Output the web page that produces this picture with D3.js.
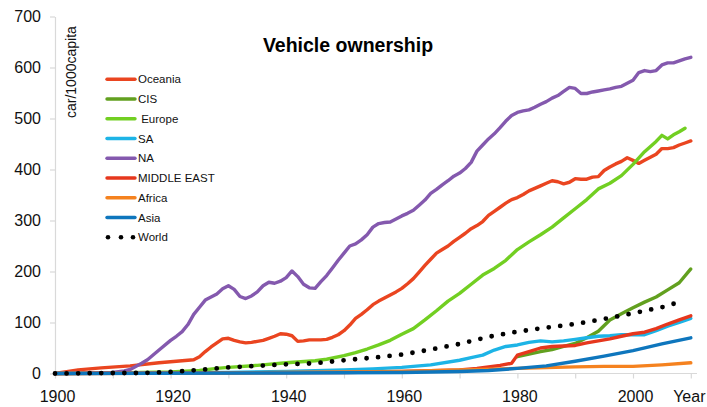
<!DOCTYPE html>
<html>
<head>
<meta charset="utf-8">
<script src="https://cdn.jsdelivr.net/npm/d3@7"></script>
<style>
  body { margin: 0; background: #fff; }
  svg { display: block; font-family: "Liberation Sans", Arial, sans-serif; }
</style>
</head>
<body>
<svg id="chart"></svg>
<script>
// values, [year, car per 1000 capita]
const oceania = [[1900,0],[1904,7],[1908,11],[1913,15],[1918,21],[1921,24],[1923,26],[1924,27],[1925,33],[1926,43],[1927,52],[1928,60],[1929,68],[1930,69],[1931,65],[1932,62],[1933,60],[1934,61],[1935,63],[1936,65],[1937,69],[1938,73],[1939,78],[1940,77],[1941,74],[1942,63],[1943,64],[1944,66],[1945,66],[1946,66],[1947,67],[1948,71],[1949,76],[1950,84],[1951,95],[1952,108],[1953,116],[1954,125],[1955,135],[1956,142],[1957,148],[1958,154],[1959,160],[1960,167],[1961,176],[1962,186],[1963,199],[1964,212],[1965,224],[1966,236],[1967,243],[1968,250],[1969,259],[1970,267],[1971,275],[1972,284],[1973,290],[1974,298],[1975,310],[1976,318],[1977,326],[1978,334],[1979,341],[1980,345],[1981,351],[1982,358],[1983,363],[1984,368],[1985,373],[1986,378],[1987,376],[1988,372],[1989,375],[1990,382],[1991,381],[1992,381],[1993,385],[1994,386],[1995,398],[1996,405],[1997,411],[1998,416],[1999,423],[2000,418],[2001,412],[2002,418],[2003,424],[2004,430],[2005,441],[2006,441],[2007,443],[2008,448],[2009,452],[2010,456]];
const cis = [[1980,33],[1982,38],[1984,43],[1986,47],[1988,53],[1990,59],[1992,70],[1994,83],[1996,105],[1998,117],[2000,129],[2002,140],[2004,150],[2006,164],[2008,178],[2010,205]];
const europe = [[1900,0],[1910,1],[1920,3],[1925,6],[1928,10],[1930,12],[1935,16],[1940,21],[1945,25],[1947,28],[1950,35],[1952,41],[1954,48],[1956,56],[1958,65],[1960,77],[1962,88],[1964,105],[1966,123],[1968,142],[1970,157],[1972,175],[1974,193],[1976,206],[1978,222],[1980,243],[1982,258],[1984,272],[1986,287],[1988,305],[1990,323],[1992,341],[1994,362],[1996,373],[1998,388],[2000,410],[2002,435],[2004,455],[2005,467],[2006,460],[2007,468],[2008,474],[2009,481]];
const sa = [[1900,0],[1920,1],[1930,2],[1940,4],[1950,7],[1955,9],[1960,12],[1965,17],[1970,26],[1972,31],[1974,36],[1976,46],[1978,53],[1980,56],[1982,61],[1984,64],[1986,62],[1988,64],[1990,67],[1992,70],[1994,73],[1996,74],[1998,76],[2000,76],[2002,76],[2004,84],[2006,93],[2008,100],[2010,108]];
const na = [[1900,0],[1905,0.5],[1910,2],[1912,5],[1913,8],[1915,20],[1916,27],[1918,46],[1920,65],[1921,73],[1922,82],[1923,96],[1924,116],[1925,130],[1926,144],[1927,150],[1928,156],[1929,166],[1930,172],[1931,165],[1932,151],[1933,147],[1934,152],[1935,160],[1936,172],[1937,179],[1938,177],[1939,181],[1940,188],[1941,201],[1942,190],[1943,175],[1944,168],[1945,167],[1946,180],[1947,192],[1948,207],[1949,222],[1950,236],[1951,250],[1952,254],[1953,262],[1954,272],[1955,287],[1956,294],[1957,296],[1958,297],[1959,303],[1960,309],[1961,314],[1962,320],[1963,330],[1964,340],[1965,353],[1966,361],[1967,370],[1968,378],[1969,387],[1970,393],[1971,402],[1972,414],[1973,436],[1974,448],[1975,460],[1976,470],[1977,482],[1978,495],[1979,506],[1980,512],[1981,515],[1982,517],[1983,522],[1984,528],[1985,533],[1986,540],[1987,545],[1988,553],[1989,561],[1990,559],[1991,549],[1992,549],[1993,552],[1994,554],[1995,556],[1996,558],[1997,561],[1998,563],[1999,569],[2000,575],[2001,590],[2002,594],[2003,592],[2004,594],[2005,605],[2006,609],[2007,609],[2008,613],[2009,617],[2010,620]];
const middleEast = [[1900,0],[1950,2],[1960,4],[1970,7],[1973,10],[1975,13],[1977,16],[1979,20],[1980,36],[1982,43],[1984,50],[1986,53],[1988,54],[1990,55],[1992,60],[1994,64],[1996,68],[1998,73],[2000,78],[2002,81],[2004,88],[2006,97],[2008,105],[2010,113]];
const africa = [[1900,0],[1930,1],[1950,3],[1960,4],[1970,7],[1980,10],[1990,13],[1995,14],[2000,14],[2005,17],[2010,21]];
const asia = [[1900,0],[1940,1],[1960,2],[1970,4],[1975,6],[1980,10],[1985,15],[1990,24],[1995,34],[2000,45],[2005,58],[2010,70]];
const world = [[1900,0],[1910,1],[1915,1],[1920,3],[1925,7],[1930,12],[1935,15],[1940,18],[1945,20],[1950,26],[1955,31],[1960,37],[1965,47],[1970,58],[1975,72],[1980,82],[1985,90],[1990,97],[1995,107],[2000,118],[2005,130],[2008,140]];

const seriesNames = ["Oceania", "CIS", " Europe", "SA", "NA", "MIDDLE EAST", "Africa", "Asia", "World"];
const seriesData = [oceania, cis, europe, sa, na, middleEast, africa, asia, world];
const yTicks = [0, 100, 200, 300, 400, 500, 600, 700];
const xTicks = [1900, 1910, 1920, 1930, 1940, 1950, 1960, 1970, 1980, 1990, 2000, 2010];
const xLabels = {1900: "1900", 1920: "1920", 1940: "1940", 1960: "1960", 1980: "1980", 2000: "2000", 2010: "Year"};

const width = 707;
const height = 407;
const colors = ["#ea4520", "#62a01f", "#72cf22", "#1db4e6", "#8459ae", "#e6371d", "#f5821f", "#0e76bd", "#000"];

const svg = d3.select("#chart")
  .attr("width", width)
  .attr("height", height);

const x = d3.scaleLinear().domain([1900, 2010]).range([55, 690.8]);
const y = d3.scaleLinear().domain([0, 700]).range([373.5, 16.5]);

// axes
const yAxis = svg.append("g")
  .attr("transform", "translate(55,0)")
  .call(d3.axisLeft(y).tickValues(yTicks).tickSize(5).tickPadding(9).tickSizeOuter(0));

const xAxis = svg.append("g")
  .attr("transform", "translate(0,373.5)")
  .call(d3.axisBottom(x).tickValues(xTicks).tickSize(5).tickPadding(12).tickSizeOuter(0)
    .tickFormat(d => xLabels[d] || ""));

xAxis.select(".domain").remove();
xAxis.append("line")
  .attr("x1", 55).attr("x2", 697)
  .attr("stroke", "#d9d9d9").attr("stroke-width", 1.2);

svg.selectAll(".domain, .tick line")
  .attr("stroke", "#d9d9d9")
  .attr("stroke-width", 1.2);

svg.selectAll(".tick text")
  .attr("fill", "#111")
  .style("font-size", "16px")
  .style("font-family", "'Liberation Sans', Arial, sans-serif");
xAxis.selectAll(".tick text").attr("dx", d => d === 2010 ? -2 : 2);

// lines
const line = d3.line()
  .x(d => x(d[0]))
  .y(d => y(d[1]));

svg.append("g")
  .selectAll("path")
  .data(seriesData)
  .enter().append("path")
    .attr("d", line)
    .attr("fill", "none")
    .attr("stroke", (d, i) => colors[i])
    .attr("stroke-width", (d, i) => i === 8 ? 4.8 : 3.4)
    .attr("stroke-linejoin", "round")
    .attr("stroke-linecap", "round")
    .attr("stroke-dasharray", (d, i) => i === 8 ? "0 11.56" : null);

// title + y label
svg.append("text")
  .attr("x", 348)
  .attr("y", 52)
  .attr("text-anchor", "middle")
  .attr("font-weight", "bold")
  .attr("font-size", 19.5)
  .text("Vehicle ownership");

svg.append("text")
  .attr("transform", "translate(76,118) rotate(-90)")
  .attr("font-size", 14)
  .attr("fill", "#111")
  .text("car/1000capita");

// legend
const legend = svg.append("g")
  .selectAll("g")
  .data(seriesNames)
  .enter().append("g")
    .attr("transform", (d, i) => "translate(107," + (79.3 + i * 19.75) + ")");

legend.filter((d, i) => i < 8)
  .append("line")
    .attr("x1", 0).attr("x2", 28)
    .attr("stroke", (d, i) => colors[i])
    .attr("stroke-width", 3.4)
    .attr("stroke-linecap", "round");

legend.filter((d, i) => i === 8)
  .selectAll("circle")
  .data([1, 14, 26])
  .enter().append("circle")
    .attr("cx", d => d)
    .attr("r", 2.3)
    .attr("fill", "#000");

legend.append("text")
  .attr("x", 31)
  .attr("dy", "0.36em")
  .attr("font-size", 11.5)
  .attr("fill", "#111")
  .style("white-space", "pre")
  .text(d => d);
</script>
</body>
</html>
